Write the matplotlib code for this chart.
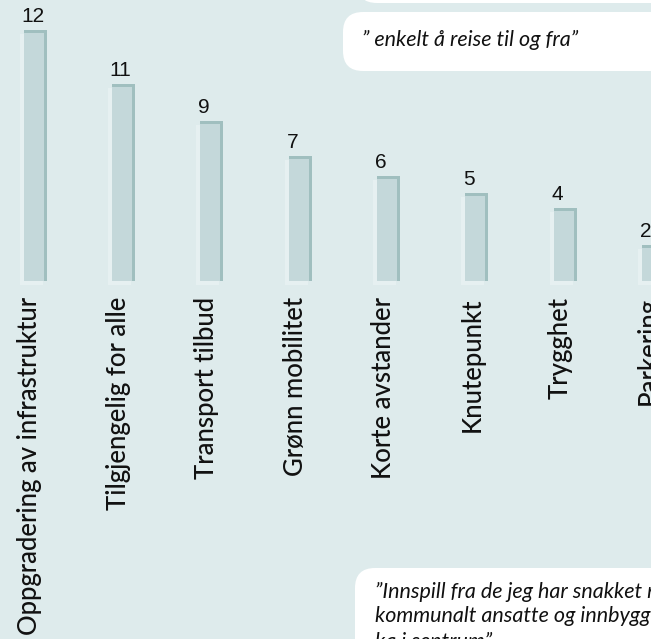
import matplotlib.pyplot as plt
from matplotlib.patches import FancyBboxPatch

# categories and counts (bar heights, the first bar is drawn taller than its label)
categories = ['Oppgradering av infrastruktur', 'Tilgjengelig for alle', 'Transport tilbud',
              'Grønn mobilitet', 'Korte avstander', 'Knutepunkt', 'Trygghet', 'Parkering']
values = [12, 11, 9, 7, 6, 5, 4, 2]
bar_heights = [14.1, 11.05, 9.0, 7.0, 5.9, 4.95, 4.1, 2.0]

quote_top = '” enkelt å reise til og fra”'
quote_bottom = ['”Innspill fra de jeg har snakket med,',
                'kommunalt ansatte og innbyggere,',
                'ka i sentrum”']

bg = '#deebec'
bar_main = '#c4d8da'
bar_dark = '#a0bfbf'
bar_faint = '#e6f0f1'

W, H = 651, 639
fig = plt.figure(figsize=(W / 100, H / 100), dpi=100, facecolor=bg)

# bar axes: 88.4 px between bars, 17.8 px per unit, baseline 281 px from top
px_x = 88.36
px_y = 17.8
x0 = 35
base = 281
ax = fig.add_axes([0, 0, 1, 1])
ax.set_facecolor(bg)
ax.set_xlim(-x0 / px_x, (W - x0) / px_x)
ax.set_ylim(-(H - base) / px_y, base / px_y)
ax.axis('off')

xs = list(range(len(categories)))
w = 23 / px_x
ax.bar([x - 4 / px_x for x in xs], bar_heights, width=w, bottom=-4 / px_y, color=bar_faint, zorder=1)
ax.bar(xs, bar_heights, width=w, color=bar_dark, zorder=2)
ax.bar([x - 1.5 / px_x for x in xs], [h - 3 / px_y for h in bar_heights], width=w - 3 / px_x,
       color=bar_main, zorder=3)

for x, h, v in zip(xs, bar_heights, values):
    ax.text(x - w / 2 - 2 / px_x, h + 4 / px_y, str(v), ha='left', va='bottom', fontsize=15,
            family='Liberation Sans', color='#111111', zorder=4)

for x, c in zip(xs, categories):
    ax.text(x - 5 / px_x, -16 / px_y, c, rotation=90, ha='center', va='top',
            fontsize=18.5, family='Lato', weight='medium', color='#111111', zorder=4)

# overlay in pixel coordinates for the quote boxes
ov = fig.add_axes([0, 0, 1, 1])
ov.set_xlim(0, W)
ov.set_ylim(H, 0)
ov.axis('off')
ov.patch.set_alpha(0)

boxes = [(357, -60, 400, 63), (343, 12, 400, 59), (355, 568, 400, 120)]
for bx, by, bw, bh in boxes:
    ov.add_patch(FancyBboxPatch((bx + 20, by + 20), bw - 40, bh - 40,
                                boxstyle='round,pad=20', fc='white', ec='none'))

ov.text(362, 46, quote_top, ha='left', va='baseline', fontsize=15.5,
        family='Lato', style='italic', color='#111111')
for y, line in zip([598, 622, 648], quote_bottom):
    ov.text(375, y, line, ha='left', va='baseline', fontsize=15.5,
            family='Lato', style='italic', color='#111111')

fig.savefig('out.png', dpi=100, facecolor=bg)
